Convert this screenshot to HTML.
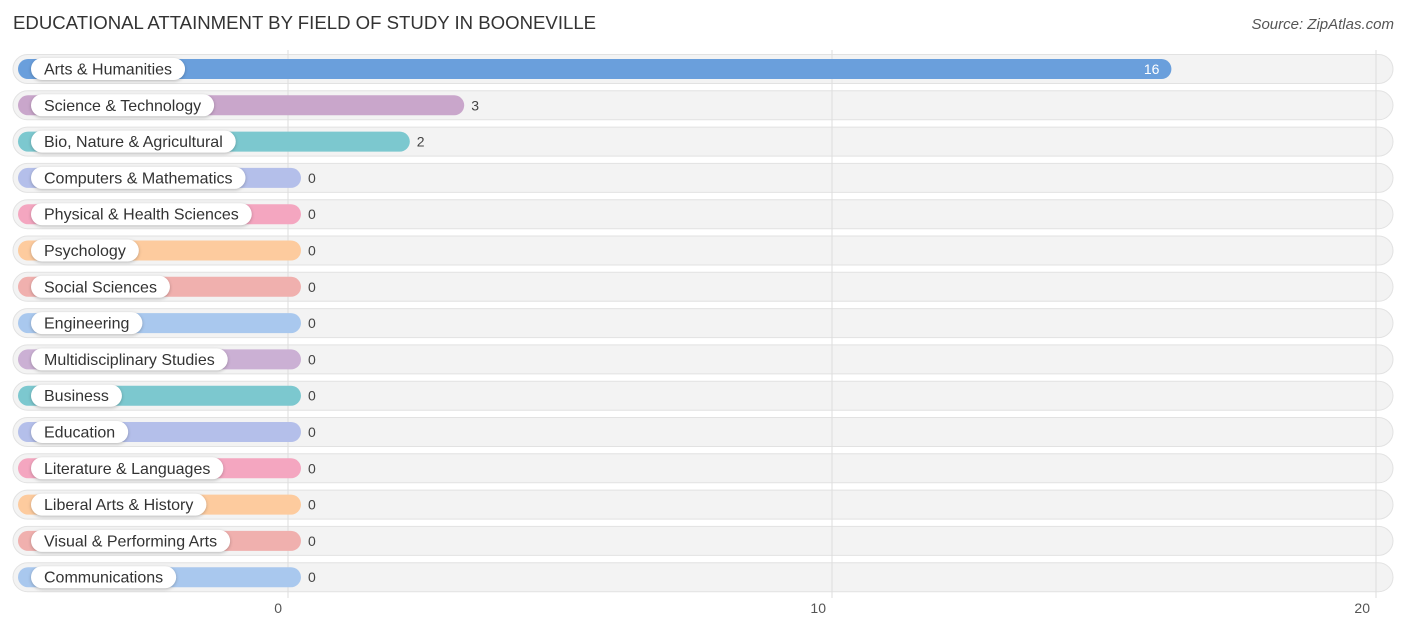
<!DOCTYPE html>
<html><head><meta charset="utf-8"><style>
body{margin:0;width:1406px;height:632px;background:#fff;font-family:"Liberation Sans",sans-serif;overflow:hidden;position:relative}
.title{position:absolute;left:13px;top:12px;font-size:18.6px;color:#333}
.src{position:absolute;right:12px;top:16px;font-size:15px;color:#555;font-style:italic}
</style></head><body>
<div class="title">EDUCATIONAL ATTAINMENT BY FIELD OF STUDY IN BOONEVILLE</div>
<div class="src">Source: ZipAtlas.com</div>
<svg id="chart" width="1406" height="632" style="position:absolute;left:0;top:0"></svg>
<script>
const categories=["Arts & Humanities","Science & Technology","Bio, Nature & Agricultural","Computers & Mathematics","Physical & Health Sciences","Psychology","Social Sciences","Engineering","Multidisciplinary Studies","Business","Education","Literature & Languages","Liberal Arts & History","Visual & Performing Arts","Communications"];
const values=[16,3,2,0,0,0,0,0,0,0,0,0,0,0,0];
const ticks=[0,10,20];
const colors=["#6a9fdc","#c9a6cb","#7cc8cf","#b4bfea","#f4a6c0","#fdcb9e","#f0b0ae","#a9c8ee","#cbb0d4","#7cc8cf","#b4bfea","#f4a6c0","#fdcb9e","#f0b0ae","#a9c8ee"];
const NS="http://www.w3.org/2000/svg";
const svg=document.getElementById('chart');
const gx=v=>288+v*54.4;
const bx=v=>301+v*54.4;
const ry=i=>69+i*36.3;
function mk(t,a){const e=document.createElementNS(NS,t);for(const k in a)e.setAttribute(k,a[k]);svg.appendChild(e);return e;}
categories.forEach((c,i)=>{
  const y=ry(i);
  const bg=mk('rect',{x:13,y:y-14.5,width:1380,height:29,rx:14.5,fill:'#f3f3f3',stroke:'#e2e2e2','stroke-width':1});
  
  
});
ticks.forEach(t=>{
  const l=mk('line',{x1:gx(t),x2:gx(t),y1:50,y2:598,stroke:'#dddddd','stroke-width':1});
  
  
  const tx=mk('text',{x:gx(t)-6,y:613,'text-anchor':'end','font-size':14,fill:'#555'});
  tx.textContent=t;
  
  
});
categories.forEach((c,i)=>{
  const y=ry(i),v=values[i];
  const w=bx(v)-18;
  const b=mk('rect',{x:18,y:y-10,width:w,height:20,rx:10,fill:colors[i]});
  
  
  const lt=mk('text',{x:44,y:y+5.5,'font-size':16,fill:'#333'});
  lt.textContent=c;
  const tw=lt.getComputedTextLength();
  const pill=mk('rect',{x:31,y:y-11,width:tw+26,height:22,rx:11,fill:'#fff',style:'filter:drop-shadow(0 1px 1.5px rgba(0,0,0,0.25))'});
  
  
  svg.appendChild(lt);
  
  
  const inside=v>=10;
  const vt=mk('text',{x:inside?bx(v)-12:bx(v)+7,y:y+5,'font-size':14,fill:inside?'#fff':'#444','text-anchor':inside?'end':'start'});
  vt.textContent=v;
  
  
});
</script>
</body></html>
